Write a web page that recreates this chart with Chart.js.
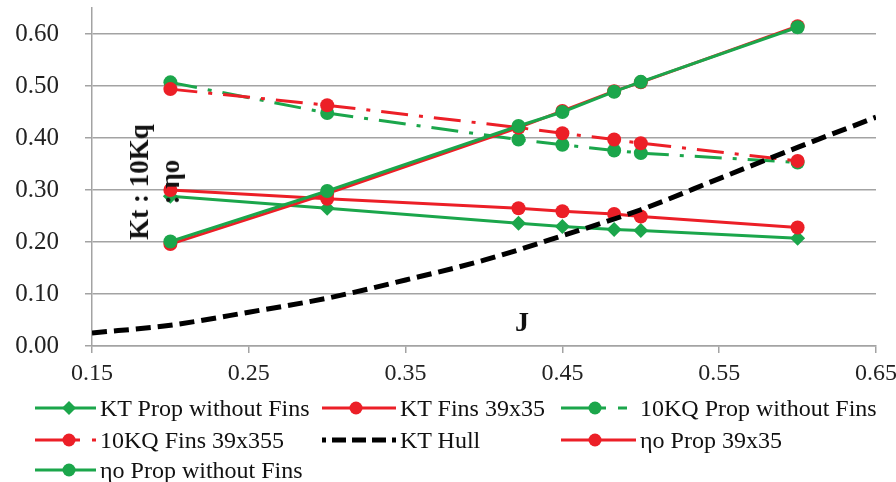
<!DOCTYPE html>
<html>
<head>
<meta charset="utf-8">
<script src="https://cdn.jsdelivr.net/npm/chart.js@4.4.1/dist/chart.umd.min.js"></script>
<style>
  html, body { margin: 0; padding: 0; background: #fff; }
  #wrap { position: relative; width: 896px; height: 482px; font-family: 'Liberation Serif', 'Times New Roman', serif; }
  #c { position: absolute; left: 0; top: 0; }
  #ytitle {
    position: absolute; left: 155px; top: 182px;
    transform: translate(-50%, -50%) rotate(-90deg);
    font-weight: bold; font-size: 27px; line-height: 31px;
    text-align: center; white-space: nowrap; color: #111;
  }
  #jlabel {
    position: absolute; left: 522px; top: 322px;
    transform: translate(-50%, -50%);
    font-weight: bold; font-size: 28px; color: #111;
  }
  .lg-text { position: absolute; font-size: 24px; line-height: 28px; white-space: nowrap; color: #111; }
  .lg-swatch { position: absolute; }
</style>
</head>
<body>
<div id="wrap">
  <canvas id="c" width="896" height="482"></canvas>
  <div id="ytitle">Kt : 10Kq<br>: ηo</div>
  <div id="jlabel">J</div>
  <div id="legend"></div>
</div>
<script>
// advance ratio J for the propeller tests
const jValues = [0.2, 0.3, 0.422, 0.45, 0.483, 0.5, 0.6];

const ktNoFins   = [0.288, 0.265, 0.236, 0.230, 0.224, 0.222, 0.207];
const ktFins     = [0.300, 0.283, 0.265, 0.259, 0.254, 0.249, 0.228];
const kq10NoFins = [0.507, 0.448, 0.397, 0.387, 0.376, 0.371, 0.353];
const kq10Fins   = [0.494, 0.463, 0.420, 0.409, 0.397, 0.390, 0.356];
const etaFins    = [0.196, 0.293, 0.420, 0.452, 0.490, 0.507, 0.615];
const etaNoFins  = [0.201, 0.298, 0.423, 0.450, 0.489, 0.508, 0.613];

// hull curve
const hullJ  = [0.15, 0.2, 0.25, 0.3, 0.35, 0.4, 0.45, 0.5, 0.55, 0.6, 0.65];
const hullKt = [0.025, 0.040, 0.065, 0.092, 0.127, 0.165, 0.212, 0.262, 0.322, 0.382, 0.440];

const xTicks = [0.15, 0.25, 0.35, 0.45, 0.55, 0.65];
const yTicks = [0, 0.1, 0.2, 0.3, 0.4, 0.5, 0.6];

const seriesNames = [
  'KT Prop without Fins', 'KT Fins 39x35', '10KQ Prop without Fins',
  '10KQ Fins 39x355', 'KT Hull', 'ηo Prop 39x35', 'ηo Prop without Fins'
];

const GREEN = '#1ba64b';
const RED = '#ec1f27';
const DASHDOT = [27, 11, 4, 11];
const FONT = "'Liberation Serif', 'Times New Roman', serif";

function pts(xs, ys) {
  return xs.map((x, i) => ({ x: x, y: ys[i] }));
}

function series(name, xs, ys, color, opts) {
  return Object.assign({
    label: name,
    data: pts(xs, ys),
    borderColor: color,
    backgroundColor: color,
    borderWidth: 3,
    pointStyle: 'circle',
    pointRadius: 7,
    pointBorderWidth: 0,
    fill: false
  }, opts);
}

const datasets = [
  series(seriesNames[0], jValues, ktNoFins, GREEN, { pointStyle: 'rectRot', pointRadius: 7.5, order: 7 }),
  series(seriesNames[1], jValues, ktFins, RED, { order: 6 }),
  series(seriesNames[2], jValues, kq10NoFins, GREEN, { borderDash: DASHDOT, order: 5 }),
  series(seriesNames[3], jValues, kq10Fins, RED, { borderDash: DASHDOT, order: 4 }),
  series(seriesNames[4], hullJ, hullKt, '#000', { borderWidth: 5, borderDash: [15, 7], pointRadius: 0, cubicInterpolationMode: 'monotone', order: 3 }),
  series(seriesNames[5], jValues, etaFins, RED, { order: 2 }),
  series(seriesNames[6], jValues, etaNoFins, GREEN, { order: 1 })
];

// legend sample dash differs from the plotted one (Excel style short sample)
const legendDash = [null, null, [45, 12, 9, 200], [45, 12, 5, 200], [4, 6, 14, 6, 14, 6, 14, 6, 14, 6], null, null];

const GRID = '#a3a3a3';

const chart = new Chart(document.getElementById('c'), {
  type: 'line',
  data: { datasets: datasets },
  options: {
    responsive: false,
    devicePixelRatio: 1,
    animation: false,
    layout: { padding: { left: 0, right: 20, top: 8, bottom: 96 } },
    plugins: { legend: { display: false }, tooltip: { enabled: false } },
    scales: {
      x: {
        type: 'linear',
        min: 0.15,
        max: 0.65,
        afterBuildTicks: s => { s.ticks = xTicks.map(v => ({ value: v })); },
        afterFit: s => { s.height = 40; s.paddingLeft = 0; s.paddingRight = 0; },
        grid: { drawOnChartArea: false, drawTicks: true, tickLength: 7, color: GRID, lineWidth: 1.5 },
        border: { display: true, color: GRID, width: 1.5 },
        ticks: {
          padding: 6,
          color: '#222',
          font: { family: FONT, size: 24 },
          maxRotation: 0,
          callback: v => Number(v).toFixed(2)
        }
      },
      y: {
        type: 'linear',
        min: 0,
        max: 0.65,
        afterBuildTicks: s => { s.ticks = yTicks.map(v => ({ value: v })); },
        afterFit: s => { s.width = 92; s.paddingTop = 0; s.paddingBottom = 0; },
        grid: { drawTicks: true, tickLength: 7, color: GRID, lineWidth: 1.5 },
        border: { display: true, color: GRID, width: 1.5 },
        ticks: {
          padding: 26,
          color: '#222',
          font: { family: FONT, size: 25 },
          callback: v => Number(v).toFixed(2)
        }
      }
    }
  }
});

// HTML legend, 3 columns
const colX = [35, 322, 561];
const textX = [100, 400, 640];
const rowY = [408, 440, 470];
const legend = document.getElementById('legend');
datasets.forEach((ds, i) => {
  const r = Math.floor(i / 3), col = i % 3;
  const w = textX[col] - colX[col] - 4;
  const cv = document.createElement('canvas');
  cv.width = w; cv.height = 20;
  cv.className = 'lg-swatch';
  cv.style.left = colX[col] + 'px';
  cv.style.top = (rowY[r] - 10) + 'px';
  const g = cv.getContext('2d');
  g.strokeStyle = ds.borderColor;
  g.lineWidth = ds.borderWidth;
  if (legendDash[i]) g.setLineDash(legendDash[i]);
  g.beginPath(); g.moveTo(0, 10); g.lineTo(w, 10); g.stroke();
  g.setLineDash([]);
  if (ds.pointRadius > 0) {
    g.fillStyle = ds.backgroundColor;
    g.beginPath();
    const cx = 34;
    if (ds.pointStyle === 'rectRot') {
      g.moveTo(cx, 3); g.lineTo(cx + 7, 10); g.lineTo(cx, 17); g.lineTo(cx - 7, 10);
      g.closePath();
    } else {
      g.arc(cx, 10, 6.5, 0, Math.PI * 2);
    }
    g.fill();
  }
  legend.appendChild(cv);
  const t = document.createElement('div');
  t.className = 'lg-text';
  t.textContent = ds.label;
  t.style.left = textX[col] + 'px';
  t.style.top = (rowY[r] - 14) + 'px';
  legend.appendChild(t);
});
</script>
</body>
</html>
